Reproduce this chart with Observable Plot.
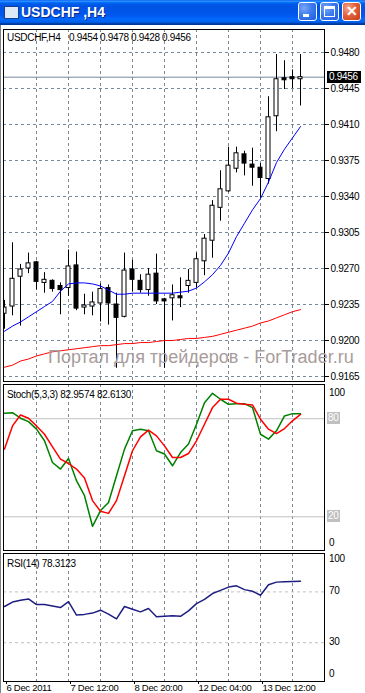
<!DOCTYPE html>
<html><head><meta charset="utf-8">
<script src="https://cdn.jsdelivr.net/npm/d3@7"></script>
<script src="https://cdn.jsdelivr.net/npm/@observablehq/plot@0.6"></script>
<style>
html,body{margin:0;padding:0;background:#fff;}
#win{position:relative;width:365px;height:693px;overflow:hidden;background:#fff;font-family:"Liberation Sans",Arial,sans-serif;}
#win svg text{letter-spacing:-0.3px;}
.lbl{position:absolute;font-size:10px;line-height:10px;color:#000;white-space:pre;letter-spacing:-0.3px;}
#title{position:absolute;left:0;top:0;width:365px;height:25px;
background:linear-gradient(#0058EE 0%,#3593FF 4%,#288EFF 6%,#127DFF 8%,#036FFC 10%,#0262EE 14%,#0057E5 20%,#0054E3 24%,#0055EB 56%,#005BF5 66%,#026AFE 76%,#0062EF 86%,#0052D6 92%,#0040AB 94%,#003092 100%);}
.btn{position:absolute;top:2px;width:19px;height:19px;border:1px solid #fff;border-radius:3px;box-sizing:border-box;
background:radial-gradient(circle at 30% 30%,#7BA6F7 0%,#3C7CF0 45%,#1F5BDA 100%);}
#close{background:radial-gradient(circle at 30% 30%,#F4A78C 0%,#E2613C 45%,#C53A16 100%);}
</style></head><body><div id="win"></div>
<script>
// ---------- data ----------
const symbol = "USDCHF,H4";
const timeLabels = ["6 Dec 2011","7 Dec 12:00","8 Dec 20:00","12 Dec 04:00","13 Dec 12:00"];
const timeTickBars = [0,8,16,24,32];
const priceTicks = [0.9165,0.9200,0.9235,0.9270,0.9305,0.9340,0.9375,0.9410,0.9445,0.9480];
const openP  = [.9226,.9233,.9262,.9270,.9276,.9256,.9258,.9253,.9251,.9273,.9232,.9233,.9236,.9251,.9235,.9223,.9269,.9258,.9249,.9265,.9240,.9241,.9243,.9253,.9256,.9277,.9297,.9329,.9345,.9367,.9381,.9371,.9368,.9357,.9418,.9455,.9456,.9454];
const highP  = [.9239,.9295,.9274,.9285,.9277,.9266,.9259,.9256,.9288,.9286,.9245,.9247,.9255,.9254,.9246,.9285,.9278,.9264,.9270,.9284,.9241,.9254,.9261,.9269,.9285,.9303,.9336,.9365,.9388,.9388,.9384,.9387,.9372,.9437,.9478,.9472,.9463,.9478];
const lowP   = [.9211,.9224,.9214,.9265,.9249,.9246,.9247,.9225,.9243,.9229,.9225,.9224,.9218,.9215,.9173,.9222,.9247,.9246,.9243,.9235,.9173,.9219,.9232,.9246,.9251,.9263,.9280,.9316,.9344,.9363,.9360,.9350,.9338,.9352,.9403,.9444,.9445,.9428];
const closeP = [.9232,.9260,.9269,.9275,.9257,.9259,.9250,.9249,.9272,.9231,.9234,.9237,.9250,.9236,.9222,.9268,.9259,.9249,.9264,.9238,.9238,.9244,.9241,.9258,.9279,.9299,.9331,.9347,.9370,.9382,.9372,.9368,.9358,.9417,.9454,.9453,.9454,.9456];
const maFast = [.9209,.9214,.9218,.9223,.9228,.9233,.9238,.9248,.9255,.9256,.9256,.9255,.9253,.9249,.9245,.9245,.9246,.9246,.9246,.9246,.9246,.9246,.9247,.9248,.9251,.9257,.9264,.9273,.9285,.9301,.9314,.9327,.9338,.9354,.9373,.9386,.9397,.9408];
const maSlow = [.9174,.9176,.9180,.9182,.9185,.9187,.9189,.9190,.9191,.9192,.9193,.9194,.9195,.9195,.9196,.9197,.9197,.9198,.9198,.9199,.9200,.9200,.9201,.9202,.9202,.9203,.9204,.9206,.9208,.9210,.9212,.9214,.9217,.9219,.9222,.9225,.9228,.9230];
const stochK = [83.4,83.7,80.3,78.2,73.6,66.5,53.2,49.2,55.7,42.1,32.9,14.2,23.8,28.8,45.1,61.4,72.6,73.6,72.6,60.4,58.4,51.2,59.3,64.5,76.6,89.8,95.5,91.9,88.8,89.2,89.2,86.8,70.5,67.5,72.6,81.7,83.1,82.9574];
const stochD = [61.4,75.6,82.3,80.3,75.6,70.5,62.8,55.3,52.6,49.2,43.7,29.9,23.4,22.1,29.9,45.1,60.4,68.9,73.0,69.5,63.4,56.3,56.3,58.7,66.5,76.6,86.8,91.9,91.9,89.5,88.8,88.4,79.7,73.6,70.9,74.0,78.7,82.6130];
const rsi = [58.5,62.0,63.5,64.5,60.0,60.0,58.9,57.7,62.3,51.8,52.3,53.3,55.6,52.5,48.7,58.5,56.4,54.3,56.9,50.5,50.8,51.2,50.8,55.1,60.8,64.1,68.7,71.2,73.8,74.8,71.8,70.5,67.4,75.6,77.7,78.0,78.2,78.3123];
const stochLevels = [80,20];
const rsiLevels = [70,30];
const gridBars = [4,8,12,16,20,24,28,32,36];

// ---------- helpers ----------
const win = document.getElementById("win");
const W = 365, ML = 3, MR = 41;
const xDom = [-0.125, 40];
const FONT = '"Liberation Sans", Arial, sans-serif';
const GRID = "#778899";
const bars = openP.map((o,i)=>({i, o, h:highP[i], l:lowP[i], c:closeP[i]}));
const last = bars[bars.length-1];
const fmt4 = d => d.toFixed(4);
function put(el, top, left=0){ el.style.position="absolute"; el.style.top=top+"px"; el.style.left=left+"px"; win.appendChild(el); return el; }
function label(text, left, top, extra={}){ const d=document.createElement("div"); d.className="lbl"; d.textContent=text; Object.assign(d.style, extra); return put(d, top, left); }
const base = {width:W, marginLeft:ML, marginRight:MR, marginTop:0,
  style:{background:"none", fontFamily:FONT, fontSize:"10px", color:"#000", overflow:"visible"}};
const vgrid = () => Plot.ruleX(gridBars, {stroke:GRID, strokeDasharray:"3,3"});

// ---------- window chrome ----------
const title = document.createElement("div"); title.id="title"; win.appendChild(title);
const icon = document.createElement("div");
Object.assign(icon.style,{width:"15px",height:"13px",background:"#DDE8F8",border:"1px solid #1B3E8F",boxSizing:"border-box"});
put(icon, 6, 4);
const ttl = document.createElement("div");
ttl.textContent = "USDCHF ,H4";
Object.assign(ttl.style,{color:"#fff",font:"bold 14px "+FONT,letterSpacing:"0px",textShadow:"1px 1px 0 #0A2A8A",whiteSpace:"pre"});
put(ttl, 4, 21);
[["min",298],["max",320],["close",342]].forEach(([id,x])=>{
  const b=document.createElement("div"); b.className="btn"; b.id=id; put(b,2,x);
  const s=document.createElement("div"); s.style.position="absolute";
  if(id==="min") Object.assign(s.style,{left:"4px",top:"11px",width:"6px",height:"3px",background:"#fff"});
  if(id==="max") Object.assign(s.style,{left:"3px",top:"3px",width:"11px",height:"11px",border:"1px solid #fff",borderTopWidth:"3px",boxSizing:"border-box"});
  if(id==="close"){ s.textContent="✕"; Object.assign(s.style,{left:"3px",top:"0px",color:"#fff",font:"bold 14px "+FONT}); }
  b.appendChild(s);
});
const lborder = document.createElement("div");
Object.assign(lborder.style,{width:"1px",height:"668px",background:"#808080"}); put(lborder, 25, 0);

// ---------- main price panel ----------
const main = Plot.plot({...base, height:353, marginBottom:1,
  x:{domain:xDom, axis:null},
  y:{domain:[0.916014, 0.950236], axis:null},
  marks:[
    vgrid(),
    Plot.ruleY(priceTicks, {stroke:GRID, strokeDasharray:"3,3"}),
    Plot.ruleY([last.c], {stroke:GRID}),
    Plot.ruleX(bars, {x:"i", y1:"l", y2:"h", stroke:"#000", clip:true}),
    Plot.rect(bars, {x1:d=>d.i-0.25, x2:d=>d.i+0.25, y1:"o", y2:"c", fill:d=>d.c>=d.o?"#fff":"#000", stroke:"#000", clip:true}),
    Plot.line(maSlow, {x:(d,i)=>i, y:d=>d, stroke:"#FF0000", strokeWidth:1, clip:true}),
    Plot.line(maFast, {x:(d,i)=>i, y:d=>d, stroke:"#0000FF", strokeWidth:1, clip:true}),
    Plot.axisY(priceTicks, {anchor:"right", tickSize:4, tickPadding:2, tickFormat:fmt4, fontSize:10}),
    Plot.frame({stroke:"#000"})
  ]});
put(main, 29);
// current price box
{
  const y = main.scale("y").apply(last.c) + 29;
  const b = document.createElement("div");
  Object.assign(b.style,{width:"34px",height:"12px",background:"#000",color:"#fff",font:"10px "+FONT,lineHeight:"12px",letterSpacing:"-0.3px",paddingLeft:"2px",boxSizing:"border-box"});
  b.textContent = fmt4(last.c);
  put(b, Math.round(y-5.5), 327);
}
label(symbol, 7, 33);
[last.o,last.h,last.l,last.c].forEach((v,j)=>label(fmt4(v), 69+31*j, 33));

// ---------- stochastic panel ----------
const stoch = Plot.plot({...base, height:167, marginBottom:1,
  x:{domain:xDom, axis:null},
  y:{domain:[-0.61, 100.92], axis:null},
  marks:[
    vgrid(),
    Plot.ruleY(stochLevels, {stroke:"#C0C0C0"}),
    Plot.line(stochK, {x:(d,i)=>i, y:d=>d, stroke:"#008000", clip:true}),
    Plot.line(stochD, {x:(d,i)=>i, y:d=>d, stroke:"#FF0000", clip:true}),
    Plot.frame({stroke:"#000"})
  ]});
put(stoch, 384);
{
  const sy = v => stoch.scale("y").apply(v) + 384;
  label("100", 329, Math.round(sy(100)+2));
  label("0", 329, Math.round(sy(0)-11));
  stochLevels.forEach(v=>{
    const y = sy(v);
    label(String(v), 327, Math.round(y-6), {background:"#C0C0C0",color:"#fff",width:"12px",height:"12px",lineHeight:"12px",paddingLeft:"1px"});
  });
  label(`Stoch(5,3,3) ${stochK[stochK.length-1].toFixed(4)} ${stochD[stochD.length-1].toFixed(4)}`, 7, 390);
}

// ---------- RSI panel ----------
const rsiPlot = Plot.plot({...base, height:140, marginBottom:12,
  x:{domain:xDom, axis:null},
  y:{domain:[-0.55, 100.24], axis:null},
  marks:[
    vgrid(),
    Plot.ruleY(rsiLevels, {stroke:"#C0C0C0", strokeDasharray:"3,3"}),
    Plot.line(rsi, {x:(d,i)=>i, y:d=>d, stroke:"#1E1E82", clip:true}),
    Plot.frame({stroke:"#000"}),
    Plot.axisX(timeTickBars, {anchor:"bottom", tickSize:3, tickPadding:0, dy:0, textAnchor:"start", dx:2,
      tickFormat:d=>timeLabels[timeTickBars.indexOf(d)], fontSize:9.5})
  ]});
put(rsiPlot, 553);
{
  const ry = v => rsiPlot.scale("y").apply(v) + 553;
  label("100", 329, Math.round(ry(100)+1));
  label("0", 329, Math.round(ry(0)-11));
  rsiLevels.forEach(v=>label(String(v), 329, Math.round(ry(v)-5)));
  label(`RSI(14) ${rsi[rsi.length-1].toFixed(4)}`, 7, 559);
}

// ---------- watermark ----------
const wm = document.createElement("div");
wm.textContent = "Портал для трейдеров - ForTrader.ru";
Object.assign(wm.style,{font:"18px "+FONT,color:"#A89C9C",whiteSpace:"pre",lineHeight:"18px"});
put(wm, 348, 48);
</script></body></html>
